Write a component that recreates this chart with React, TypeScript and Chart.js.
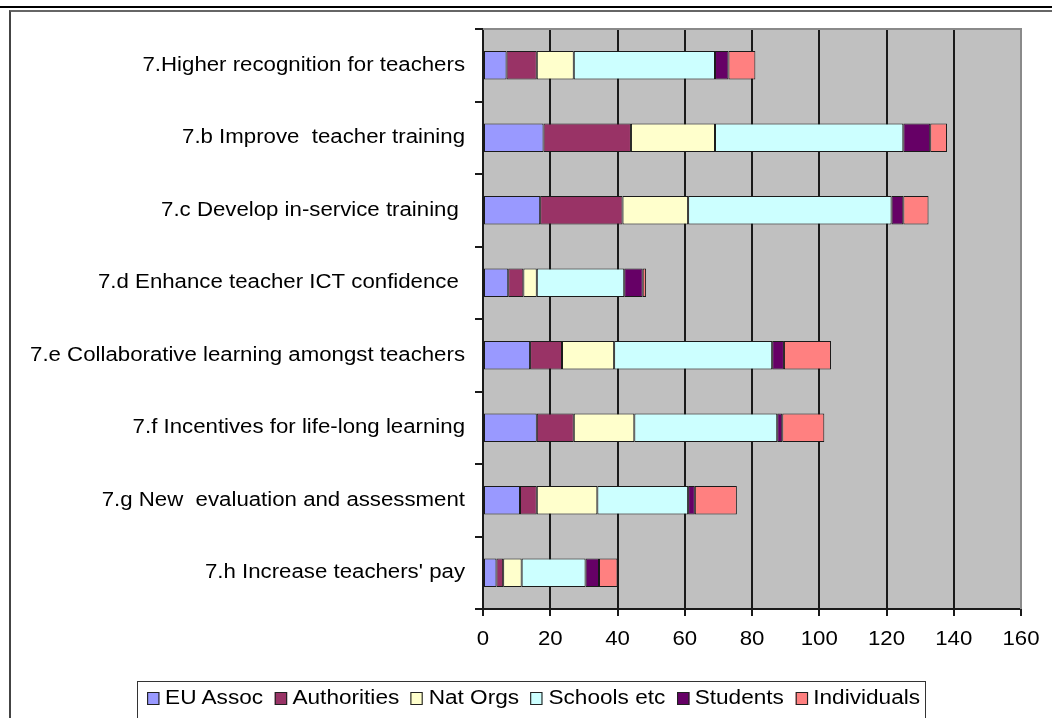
import React, { useEffect, useRef } from "react";
import { Chart, registerables } from "chart.js";

Chart.register(...registerables);

const categories = [
  "7.Higher recognition for teachers",
  "7.b Improve  teacher training",
  "7.c Develop in-service training ",
  "7.d Enhance teacher ICT confidence ",
  "7.e Collaborative learning amongst teachers",
  "7.f Incentives for life-long learning",
  "7.g New  evaluation and assessment",
  "7.h Increase teachers' pay",
];

const seriesNames = ["EU Assoc", "Authorities", "Nat Orgs", "Schools etc", "Students", "Individuals"];
const seriesColors = ["#9999FF", "#993366", "#FFFFCC", "#CCFFFF", "#660066", "#FF8080"];

const euAssoc = [7, 18, 17, 7.5, 14, 16, 11, 4];
const authorities = [9, 26, 24.5, 4.5, 9.5, 11, 5, 2];
const natOrgs = [11, 25, 19.5, 4, 15.5, 18, 18, 5.5];
const schoolsEtc = [42, 56, 60.5, 26, 47, 42.5, 27, 19];
const students = [4, 8, 3.5, 5.5, 3.5, 1.5, 2, 4];
const individuals = [8, 5, 7.5, 1, 14, 12.5, 12.5, 5.5];

const seriesValues = [euAssoc, authorities, natOrgs, schoolsEtc, students, individuals];

const xTicks = [0, 20, 40, 60, 80, 100, 120, 140, 160];

const FONT = "'Liberation Sans', Arial, Helvetica, sans-serif";
const STRETCH = 1.14;

const plotBg = {
  id: "plotBg",
  beforeDraw(chart: any) {
    const { ctx, chartArea } = chart;
    ctx.save();
    ctx.fillStyle = "#c0c0c0";
    ctx.fillRect(chartArea.left, chartArea.top, chartArea.right - chartArea.left, chartArea.bottom - chartArea.top);
    ctx.restore();
  },
  beforeDatasetsDraw(chart: any) {
    const { ctx, chartArea } = chart;
    ctx.save();
    ctx.strokeStyle = "#8a8a8a";
    ctx.lineWidth = 2;
    ctx.beginPath();
    ctx.moveTo(chartArea.left, chartArea.top);
    ctx.lineTo(chartArea.right, chartArea.top);
    ctx.lineTo(chartArea.right, chartArea.bottom);
    ctx.stroke();
    ctx.restore();
  },
  afterDraw(chart: any) {
    const { ctx, chartArea } = chart;
    const ys = chart.scales.y;
    const xs = chart.scales.x;
    ctx.save();
    ctx.fillStyle = "#000";
    ctx.font = `19.5px ${FONT}`;
    ctx.textBaseline = "middle";
    ctx.textAlign = "right";
    const labels = ys.getLabels();
    labels.forEach((lab: string, i: number) => {
      const py = ys.getPixelForValue(i);
      ctx.save();
      ctx.translate(chartArea.left - 18, py);
      ctx.scale(STRETCH, 1);
      ctx.fillText(lab, 0, 0);
      ctx.restore();
    });
    ctx.textAlign = "center";
    xs.ticks.forEach((t: any) => {
      const px = xs.getPixelForValue(t.value);
      ctx.save();
      ctx.translate(px, chartArea.bottom + 31);
      ctx.scale(STRETCH, 1);
      ctx.fillText(String(t.value), 0, 0);
      ctx.restore();
    });
    ctx.restore();
  },
};

export default function App() {
  const ref = useRef<HTMLCanvasElement>(null);

  useEffect(() => {
    if (!ref.current) return;
    const chart = new Chart(ref.current, {
      type: "bar",
      data: {
        labels: categories,
        datasets: seriesNames.map((name, i) => ({
          label: name,
          data: seriesValues[i],
          backgroundColor: seriesColors[i],
          borderColor: "#1a1a1a",
          borderWidth: 1,
          borderSkipped: false,
          categoryPercentage: 1,
          barPercentage: 0.39,
        })),
      },
      options: {
        indexAxis: "y",
        responsive: false,
        animation: false,
        devicePixelRatio: 1,
        layout: { padding: { left: 0, top: 29, right: 31, bottom: 0 } },
        plugins: { legend: { display: false }, tooltip: { enabled: false } },
        scales: {
          x: {
            stacked: true,
            min: 0,
            max: 160,
            afterBuildTicks: (scale: any) => {
              scale.ticks = xTicks.map((v) => ({ value: v }));
            },
            afterFit: (scale: any) => {
              scale.height = 109;
            },
            grid: { color: "#1a1a1a", lineWidth: 2, drawTicks: true, tickLength: 7 },
            border: { display: true, color: "#1a1a1a", width: 2 },
            ticks: { display: false },
          },
          y: {
            stacked: true,
            afterFit: (scale: any) => {
              scale.width = 483;
            },
            grid: { display: true, drawOnChartArea: false, drawTicks: true, tickLength: 8, color: "#1a1a1a", lineWidth: 2, offset: true },
            border: { display: true, color: "#1a1a1a", width: 2 },
            ticks: { display: false, autoSkip: false },
          },
        },
      },
      plugins: [plotBg],
    });
    return () => chart.destroy();
  }, []);

  return (
    <div style={{ position: "absolute", left: 0, top: 0, width: 1052, height: 718, overflow: "hidden", background: "#fff" }}>
      <div style={{ position: "absolute", left: 0, top: 6, width: 1052, height: 2, background: "#000" }} />
      <div
        style={{
          position: "absolute",
          left: 9,
          top: 10,
          width: 1100,
          height: 800,
          borderLeft: "2px solid #444",
          borderTop: "2px solid #666",
        }}
      />
      <canvas ref={ref} width={1052} height={718} style={{ position: "absolute", left: 0, top: 0, display: "block" }} />
      <div
        style={{
          position: "absolute",
          left: 137,
          top: 681,
          width: 789,
          height: 60,
          border: "1px solid #333",
          boxSizing: "border-box",
          fontFamily: FONT,
          fontSize: 20,
          color: "#000",
          whiteSpace: "nowrap",
        }}
      >
        <div
          style={{
            display: "flex",
            alignItems: "center",
            transform: "scaleX(1.13)",
            transformOrigin: "left top",
            paddingLeft: 8,
            paddingTop: 4,
          }}
        >
          {seriesNames.map((name, i) => (
            <div key={name} style={{ display: "flex", alignItems: "center", marginRight: 10 }}>
              <span
                style={{
                  display: "inline-block",
                  width: 9,
                  height: 11,
                  background: seriesColors[i],
                  border: "1px solid #222",
                  marginRight: 5,
                  marginTop: 2,
                }}
              />
              <span>{name}</span>
            </div>
          ))}
        </div>
      </div>
    </div>
  );
}
